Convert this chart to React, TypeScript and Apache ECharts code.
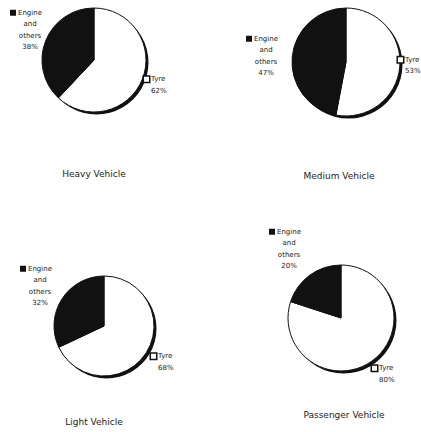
import React, { useEffect, useRef } from 'react';
import * as echarts from 'echarts';

// ---- data ----
const vehicles = ['Heavy Vehicle', 'Medium Vehicle', 'Light Vehicle', 'Passenger Vehicle'];
const categories = ['Tyre', 'Engine and others'];
const tyreShare = [62, 53, 68, 80];
const engineShare = [38, 47, 32, 20];

// ---- layout (px) ----
const pieCenters = [[94, 60], [346, 62], [104, 326], [341, 318]];
const pieRadii = [52, 54, 50, 53];
const titlePos = [[94, 174], [339, 176], [94, 422], [344, 415]];
const engineLabelPos = [[30, 7], [266, 33], [40, 263], [289, 226]];
const tyreLabelPos = [[144, 73.5], [398, 54], [151, 350.5], [372, 362.5]];

const INK = '#111';
const FONT = 'DejaVu Sans';

export default function App() {
  const ref = useRef<HTMLDivElement>(null);
  useEffect(() => {
    if (!ref.current) return;
    const chart = echarts.init(ref.current, null, { renderer: 'svg' });
    const series: any[] = [];
    vehicles.forEach((v, i) => {
      // shadow disk (thick rim on right/bottom)
      series.push({
        type: 'pie',
        silent: true,
        z: 1,
        center: [pieCenters[i][0] + 2.5, pieCenters[i][1] + 2.5],
        radius: pieRadii[i],
        label: { show: false },
        labelLine: { show: false },
        itemStyle: { color: INK, borderWidth: 0 },
        data: [{ name: 'rim', value: 1 }],
      });
      const engineWords = categories[1].split(' ');
      series.push({
        type: 'pie',
        z: 2,
        silent: true,
        center: pieCenters[i],
        radius: pieRadii[i],
        startAngle: 90,
        clockwise: true,
        avoidLabelOverlap: false,
        labelLine: { show: false },
        itemStyle: { borderColor: INK, borderWidth: 1 },
        label: {
          show: true,
          position: 'outside',
          fontFamily: FONT,
          fontSize: 7,
          color: '#222',
          lineHeight: 11.5,
          rich: {
            mk: { width: 6, height: 6, backgroundColor: INK, lineHeight: 11.5 },
            wk: { width: 5, height: 5, backgroundColor: '#fff', borderColor: INK, borderWidth: 1.5, lineHeight: 11.5 },
            e: { fontFamily: FONT, fontSize: 7, color: '#222', lineHeight: 11.5, padding: [0, 0, 0, 2] },
            sp: { width: 8, lineHeight: 11.5 },
            t: { fontFamily: FONT, fontSize: 7, color: '#222', lineHeight: 11.5 },
            p: { fontFamily: FONT, fontSize: 7, color: '#222', lineHeight: 11, padding: [0, 0, 0, 7] },
          },
          formatter: (p: any) => {
            if (p.dataIndex === 1) {
              return `{mk|}{e|${engineWords[0]}}{sp|}\n` +
                engineWords.slice(1).map((w) => `{t|${w}}`).join('\n') +
                `\n{t|${p.value}%}`;
            }
            return `{wk|}{e|${p.name}}\n{p|${p.value}%}`;
          },
        },
        labelLayout: (params: any) => {
          if (params.dataIndex === 1) {
            return { x: engineLabelPos[i][0], y: engineLabelPos[i][1], align: 'center', verticalAlign: 'top' };
          }
          return { x: tyreLabelPos[i][0], y: tyreLabelPos[i][1], align: 'left', verticalAlign: 'top' };
        },
        data: [
          { name: categories[0], value: tyreShare[i], itemStyle: { color: '#fff' } },
          { name: categories[1], value: engineShare[i], itemStyle: { color: INK } },
        ],
      });
    });
    chart.setOption({
      animation: false,
      backgroundColor: '#fff',
      series,
      graphic: vehicles.map((v, i) => ({
        type: 'text',
        x: titlePos[i][0],
        y: titlePos[i][1],
        style: {
          text: v,
          fill: '#222',
          font: `9px "${FONT}"`,
          align: 'center',
          verticalAlign: 'middle',
        },
      })),
    });
    return () => chart.dispose();
  }, []);
  return <div ref={ref} style={{ position: 'absolute', left: 0, top: 0, width: 421, height: 432 }} />;
}
